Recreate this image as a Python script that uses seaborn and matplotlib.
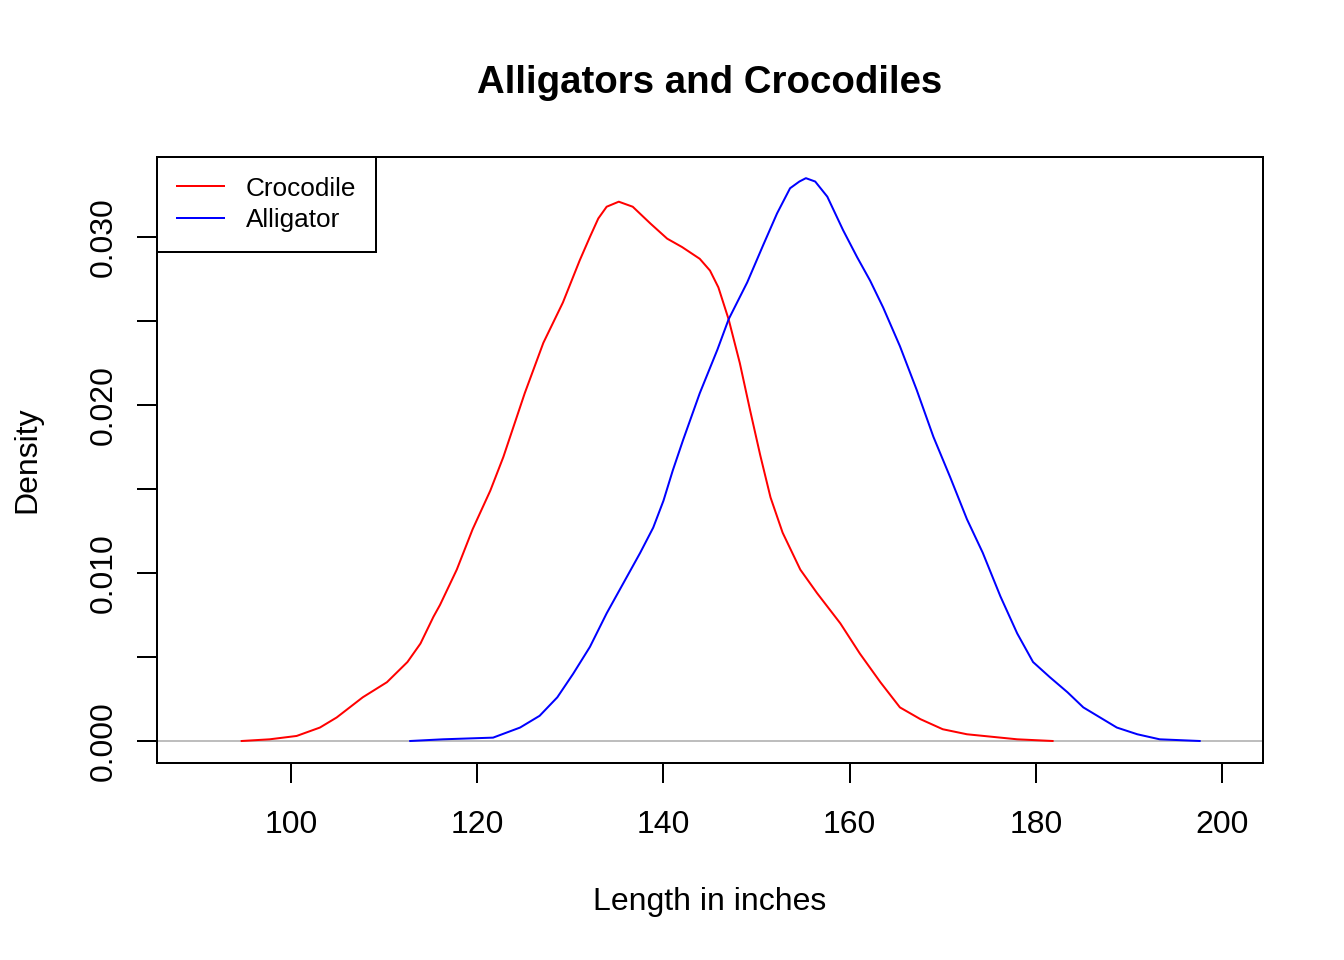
import pandas as pd
import matplotlib
matplotlib.use("Agg")
import matplotlib.pyplot as plt
import seaborn as sns

# ---------------- DATA ----------------
croc_x = [94.7, 97.7, 100.6, 103.1, 104.9, 107.7, 110.3, 112.5, 113.9, 115.3,
          116.0, 117.8, 119.5, 121.4, 122.8, 125.1, 127.1, 129.2, 131.0, 132.1,
          133.0, 133.9, 135.2, 136.7, 138.6, 140.4, 142.0, 143.9, 145.0, 145.9,
          147.0, 148.2, 149.3, 150.4, 151.5, 152.8, 154.7, 156.5, 159.0, 161.1,
          163.3, 165.4, 167.6, 170.0, 172.6, 176.2, 178.0, 181.8]
croc_y = [0.0000, 0.0001, 0.0003, 0.0008, 0.0014, 0.0026, 0.0035, 0.0047, 0.0058, 0.0074,
          0.0081, 0.0102, 0.0126, 0.0149, 0.0169, 0.0207, 0.0237, 0.0261, 0.0286, 0.0300,
          0.0311, 0.0318, 0.0321, 0.0318, 0.0308, 0.0299, 0.0294, 0.0287, 0.0280, 0.0270,
          0.0251, 0.0225, 0.0197, 0.0170, 0.0145, 0.0124, 0.0102, 0.0088, 0.0070, 0.0052,
          0.0035, 0.0020, 0.0013, 0.0007, 0.0004, 0.0002, 0.0001, 0.0000]

gator_x = [112.8, 116.3, 121.7, 124.6, 126.7, 128.6, 130.3, 132.1, 133.9, 135.7,
           137.5, 138.9, 140.0, 141.0, 142.1, 143.9, 145.8, 147.0, 149.0, 150.7,
           152.2, 153.6, 154.6, 155.3, 156.3, 157.6, 159.3, 160.8, 162.2, 163.6,
           165.4, 167.2, 169.0, 170.8, 172.6, 174.3, 176.2, 178.0, 179.7, 181.5,
           183.4, 185.1, 186.9, 188.7, 190.9, 193.3, 197.6]
gator_y = [0.0000, 0.0001, 0.0002, 0.0008, 0.0015, 0.0026, 0.0040, 0.0056, 0.0076, 0.0094,
           0.0112, 0.0127, 0.0143, 0.0161, 0.0179, 0.0207, 0.0233, 0.0251, 0.0273, 0.0295,
           0.0314, 0.0329, 0.0333, 0.0335, 0.0333, 0.0324, 0.0304, 0.0288, 0.0274, 0.0258,
           0.0235, 0.0209, 0.0181, 0.0157, 0.0132, 0.0112, 0.0086, 0.0064, 0.0047, 0.0038,
           0.0029, 0.0020, 0.0014, 0.0008, 0.0004, 0.0001, 0.0000]

species = ["Crocodile", "Alligator"]
colors = {"Crocodile": "red", "Alligator": "blue"}
x_ticks = [100, 120, 140, 160, 180, 200]
y_ticks = [0.000, 0.005, 0.010, 0.015, 0.020, 0.025, 0.030]
y_labels = ["0.000", "", "0.010", "", "0.020", "", "0.030"]

df = pd.concat([
    pd.DataFrame({"length": croc_x, "density": croc_y, "species": "Crocodile"}),
    pd.DataFrame({"length": gator_x, "density": gator_y, "species": "Alligator"}),
])

# ---------------- PLOT ----------------
plt.rcParams["font.family"] = ["Liberation Sans", "DejaVu Sans"]
plt.rcParams["font.size"] = 12

fig = plt.figure(figsize=(7, 5), dpi=192)
ax = fig.add_axes([157 / 1344, 1 - 763 / 960, 1106 / 1344, 606 / 960])

ax.axhline(0, color="#BEBEBE", lw=0.75, zorder=1)

sns.lineplot(data=df, x="length", y="density", hue="species",
             hue_order=species, palette=colors, estimator=None,
             lw=0.75, ax=ax, legend=False, zorder=2)

ax.set_xlim(85.6, 204.4)
ax.set_ylim(-0.00131, 0.03476)

ax.set_xticks(x_ticks)
ax.set_yticks(y_ticks)
ax.set_yticklabels(y_labels)
plt.setp(ax.get_yticklabels(), rotation=90, va="center")

ax.tick_params(axis="both", direction="out", length=7.5, width=0.75,
               color="black", labelsize=12)
ax.tick_params(axis="x", pad=10)
ax.tick_params(axis="y", pad=7)

for s in ax.spines.values():
    s.set_color("black")
    s.set_linewidth(0.75)

ax.set_title("Alligators and Crocodiles", fontsize=14.4,
             fontweight="bold", pad=24)
ax.set_xlabel("Length in inches", fontsize=12)
ax.set_ylabel("Density", fontsize=12)
ax.xaxis.set_label_coords(0.5, -0.205)
ax.yaxis.set_label_coords(-0.104, 0.5)

# legend
handles = [plt.Line2D([], [], color=colors[s], lw=0.75) for s in species]
leg = ax.legend(handles, species, loc="upper left", bbox_to_anchor=(0, 1),
                borderaxespad=0, fontsize=9.8, frameon=True, fancybox=False,
                handlelength=1.8, handletextpad=0.85, labelspacing=0.28,
                borderpad=0.75, edgecolor="black")
leg.get_frame().set_linewidth(0.75)
leg.get_frame().set_alpha(1)

fig.savefig("out.png", dpi=192)
